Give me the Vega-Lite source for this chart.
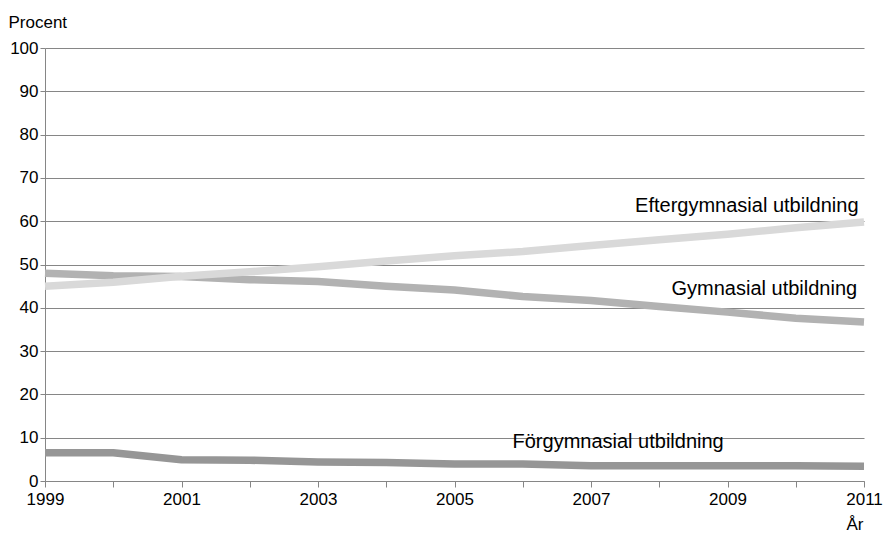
{
  "$schema": "https://vega.github.io/schema/vega-lite/v6.json",
  "width": 819,
  "height": 433,
  "autosize": "none",
  "padding": {"left": 45, "top": 48, "right": 21, "bottom": 57},
  "background": "white",
  "config": {
    "font": "Liberation Sans",
    "view": {"stroke": null},
    "axis": {"labelFont": "Liberation Sans", "titleFont": "Liberation Sans", "labelColor": "black", "titleColor": "black"}
  },
  "datasets": {
    "series": [
      {"year": 1999, "group": "Förgymnasial utbildning", "value": 6.5},
      {"year": 2000, "group": "Förgymnasial utbildning", "value": 6.5},
      {"year": 2001, "group": "Förgymnasial utbildning", "value": 4.9},
      {"year": 2002, "group": "Förgymnasial utbildning", "value": 4.8},
      {"year": 2003, "group": "Förgymnasial utbildning", "value": 4.4},
      {"year": 2004, "group": "Förgymnasial utbildning", "value": 4.3},
      {"year": 2005, "group": "Förgymnasial utbildning", "value": 3.9},
      {"year": 2006, "group": "Förgymnasial utbildning", "value": 3.9},
      {"year": 2007, "group": "Förgymnasial utbildning", "value": 3.5},
      {"year": 2008, "group": "Förgymnasial utbildning", "value": 3.5},
      {"year": 2009, "group": "Förgymnasial utbildning", "value": 3.5},
      {"year": 2010, "group": "Förgymnasial utbildning", "value": 3.5},
      {"year": 2011, "group": "Förgymnasial utbildning", "value": 3.4},
      {"year": 1999, "group": "Gymnasial utbildning", "value": 48.0},
      {"year": 2000, "group": "Gymnasial utbildning", "value": 47.4},
      {"year": 2001, "group": "Gymnasial utbildning", "value": 47.2},
      {"year": 2002, "group": "Gymnasial utbildning", "value": 46.5},
      {"year": 2003, "group": "Gymnasial utbildning", "value": 46.1},
      {"year": 2004, "group": "Gymnasial utbildning", "value": 45.0},
      {"year": 2005, "group": "Gymnasial utbildning", "value": 44.1},
      {"year": 2006, "group": "Gymnasial utbildning", "value": 42.6},
      {"year": 2007, "group": "Gymnasial utbildning", "value": 41.7},
      {"year": 2008, "group": "Gymnasial utbildning", "value": 40.3},
      {"year": 2009, "group": "Gymnasial utbildning", "value": 39.0},
      {"year": 2010, "group": "Gymnasial utbildning", "value": 37.6},
      {"year": 2011, "group": "Gymnasial utbildning", "value": 36.7},
      {"year": 1999, "group": "Eftergymnasial utbildning", "value": 45.0},
      {"year": 2000, "group": "Eftergymnasial utbildning", "value": 45.9},
      {"year": 2001, "group": "Eftergymnasial utbildning", "value": 47.3},
      {"year": 2002, "group": "Eftergymnasial utbildning", "value": 48.3},
      {"year": 2003, "group": "Eftergymnasial utbildning", "value": 49.5},
      {"year": 2004, "group": "Eftergymnasial utbildning", "value": 50.8},
      {"year": 2005, "group": "Eftergymnasial utbildning", "value": 52.0},
      {"year": 2006, "group": "Eftergymnasial utbildning", "value": 53.0},
      {"year": 2007, "group": "Eftergymnasial utbildning", "value": 54.4},
      {"year": 2008, "group": "Eftergymnasial utbildning", "value": 55.7},
      {"year": 2009, "group": "Eftergymnasial utbildning", "value": 57.0},
      {"year": 2010, "group": "Eftergymnasial utbildning", "value": 58.5},
      {"year": 2011, "group": "Eftergymnasial utbildning", "value": 59.8}
    ],
    "labels": [
      {"year": 2010.92, "value": 62.2, "text": "Eftergymnasial utbildning", "align": "right"},
      {"year": 2010.9, "value": 43.0, "text": "Gymnasial utbildning", "align": "right"},
      {"year": 2005.85, "value": 7.7, "text": "Förgymnasial utbildning", "align": "left"}
    ]
  },
  "layer": [
    {
      "data": {"name": "series"},
      "mark": {"type": "line", "strokeWidth": 7.5, "strokeCap": "butt", "strokeJoin": "round"},
      "encoding": {
        "x": {
          "field": "year", "type": "quantitative",
          "scale": {"domain": [1999, 2011], "nice": false, "zero": false},
          "axis": {
            "title": "År", "titleFontSize": 17, "titleFontWeight": "normal",
            "titleAnchor": "end", "titleAlign": "right", "titleBaseline": "alphabetic",
            "titleX": 818, "titleY": 48,
            "values": [1999, 2000, 2001, 2002, 2003, 2004, 2005, 2006, 2007, 2008, 2009, 2010, 2011],
            "labelExpr": "datum.value % 2 == 1 ? datum.label : ''",
            "format": "d", "labelFontSize": 17, "labelPadding": 4,
            "grid": false, "domainColor": "#868686", "tickColor": "#868686", "tickSize": 6,
            "labelOverlap": false, "labelFlush": false
          }
        },
        "y": {
          "field": "value", "type": "quantitative",
          "scale": {"domain": [0, 100], "nice": false},
          "axis": {
            "title": "Procent", "titleFontSize": 17, "titleFontWeight": "normal",
            "titleAngle": 0, "titleAlign": "left", "titleBaseline": "alphabetic",
            "titleX": -37, "titleY": -21,
            "values": [0, 10, 20, 30, 40, 50, 60, 70, 80, 90, 100],
            "labelFontSize": 17, "labelPadding": 2,
            "grid": true, "gridColor": "#868686", "gridWidth": 1.2,
            "domainColor": "#868686", "tickColor": "#868686", "tickSize": 5
          }
        },
        "color": {
          "field": "group", "type": "nominal", "legend": null,
          "scale": {
            "domain": ["Förgymnasial utbildning", "Gymnasial utbildning", "Eftergymnasial utbildning"],
            "range": ["#969696", "#b2b2b2", "#d9d9d9"]
          }
        }
      }
    },
    {
      "data": {"name": "labels"},
      "transform": [{"filter": "datum.align == 'right'"}],
      "mark": {"type": "text", "align": "right", "baseline": "alphabetic", "fontSize": 20, "font": "Liberation Sans", "color": "black"},
      "encoding": {
        "x": {"field": "year", "type": "quantitative"},
        "y": {"field": "value", "type": "quantitative"},
        "text": {"field": "text"}
      }
    },
    {
      "data": {"name": "labels"},
      "transform": [{"filter": "datum.align == 'left'"}],
      "mark": {"type": "text", "align": "left", "baseline": "alphabetic", "fontSize": 20, "font": "Liberation Sans", "color": "black"},
      "encoding": {
        "x": {"field": "year", "type": "quantitative"},
        "y": {"field": "value", "type": "quantitative"},
        "text": {"field": "text"}
      }
    }
  ]
}
